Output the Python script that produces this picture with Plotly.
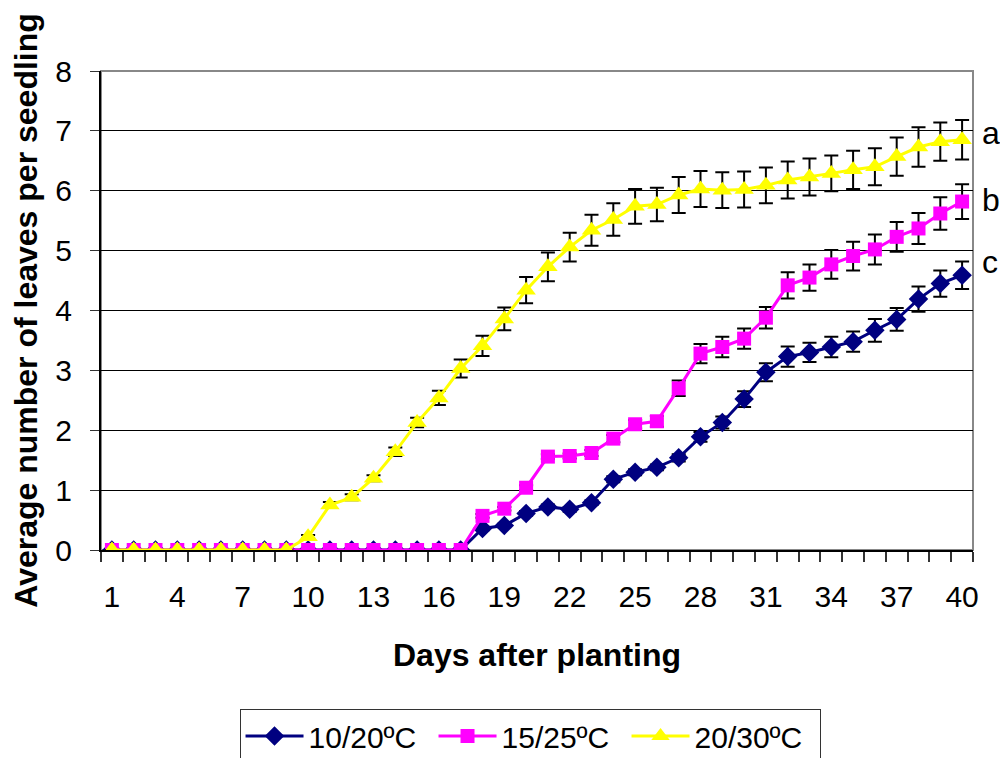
import plotly.graph_objects as go

days = list(range(1, 41))

# 10/20ºC
s1020 = [0]*17 + [0.36, 0.41, 0.61, 0.72, 0.68, 0.79, 1.18, 1.30, 1.38, 1.54, 1.89, 2.13, 2.52, 2.97,
                  3.23, 3.30, 3.39, 3.48, 3.67, 3.85, 4.19, 4.45, 4.59]
e1020 = [0]*17 + [0.03, 0.03, 0.04, 0.04, 0.04, 0.04, 0.05, 0.05, 0.05, 0.06, 0.08, 0.10, 0.13, 0.15,
                  0.17, 0.16, 0.17, 0.17, 0.19, 0.19, 0.21, 0.22, 0.23]
# 15/25ºC
s1525 = [0]*17 + [0.57, 0.69, 1.04, 1.56, 1.57, 1.62, 1.86, 2.10, 2.15, 2.70, 3.28, 3.39, 3.53, 3.88,
                  4.42, 4.55, 4.77, 4.91, 5.02, 5.23, 5.37, 5.62, 5.82]
e1525 = [0]*17 + [0.03, 0.03, 0.04, 0.04, 0.04, 0.05, 0.06, 0.07, 0.09, 0.13, 0.16, 0.17, 0.17, 0.18,
                  0.22, 0.22, 0.24, 0.24, 0.25, 0.25, 0.26, 0.27, 0.29]
# 20/30ºC
s2030 = [0]*9 + [0.22, 0.75, 0.88, 1.20, 1.64, 2.13, 2.54, 3.03, 3.41, 3.86, 4.34, 4.73, 5.06, 5.34,
                 5.52, 5.74, 5.77, 5.93, 6.03, 6.01, 6.02, 6.09, 6.18, 6.23, 6.29, 6.35, 6.40, 6.57,
                 6.73, 6.82, 6.85]
e2030 = [0]*9 + [0.03, 0.05, 0.05, 0.05, 0.07, 0.08, 0.12, 0.15, 0.17, 0.19, 0.22, 0.24, 0.24, 0.26,
                 0.27, 0.29, 0.28, 0.30, 0.30, 0.30, 0.30, 0.30, 0.31, 0.31, 0.30, 0.32, 0.31, 0.32,
                 0.33, 0.32, 0.33]

xticks = list(range(1, 41, 3))
letters = ["a", "b", "c"]
letter_y = [6.97, 5.84, 4.81]

FONT = "Arial, Liberation Sans, sans-serif"

series = [
    ("10/20ºC", s1020, e1020, "#000080", "diamond", 15),
    ("15/25ºC", s1525, e1525, "#FF00FF", "square", 14),
    ("20/30ºC", s2030, e2030, "#FFFF00", "triangle-up", 17),
]

fig = go.Figure()
for name, ys, es, col, sym, sz in series:
    fig.add_trace(go.Scatter(
        x=days, y=ys, name=name, mode="lines+markers",
        line=dict(color=col, width=3),
        marker=dict(symbol=sym, size=sz, color=col, line=dict(width=0)),
        error_y=dict(type="data", array=es, visible=True, color="black", thickness=2, width=7),
    ))

for lt, ly in zip(letters, letter_y):
    fig.add_annotation(x=1.0, xref="paper", xanchor="left", xshift=7, y=ly, yref="y",
                       text=lt, showarrow=False, font=dict(family=FONT, size=32, color="black"))

fig.add_shape(type="rect", xref="paper", yref="paper", x0=0, x1=1, y0=0, y1=1,
              line=dict(color="#888888", width=2), layer="below")

fig.update_layout(
    width=1000, height=758,
    margin=dict(l=101, r=27, t=71, b=208, autoexpand=False),
    paper_bgcolor="white", plot_bgcolor="white",
    font=dict(family=FONT, size=30, color="black"),
    showlegend=True,
    legend=dict(orientation="h", x=0.492, xanchor="center", y=-0.332, yanchor="top",
                bordercolor="#333333", borderwidth=1, font=dict(size=30, family=FONT),
                itemwidth=58, entrywidth=120, entrywidthmode="pixels", tracegroupgap=0),
    xaxis=dict(
        range=[0.5, 40.5], tickmode="array", tickvals=xticks, ticktext=[str(t) for t in xticks],
        ticks="", showgrid=False, zeroline=False, showline=True, linecolor="black", linewidth=2,
        ticklabelstandoff=19, tickfont=dict(size=30), automargin=False,
        minor=dict(tickmode="linear", tick0=0.5, dtick=1, ticks="outside", ticklen=10,
                   tickcolor="#333333", tickwidth=1.5, showgrid=False),
        title=dict(text="<b>Days after planting</b>", font=dict(size=32), standoff=32),
    ),
    yaxis=dict(
        range=[0, 8], tickmode="linear", tick0=0, dtick=1, ticks="outside", ticklen=9,
        tickcolor="#333333", showgrid=True, gridcolor="black", gridwidth=1, zeroline=False,
        showline=True, linecolor="black", linewidth=2, ticklabelstandoff=12,
        tickfont=dict(size=30), automargin=False,
        title=dict(text="<b>Average number of leaves per seedling</b>", font=dict(size=32), standoff=8),
    ),
)

fig.write_html("out.html")
